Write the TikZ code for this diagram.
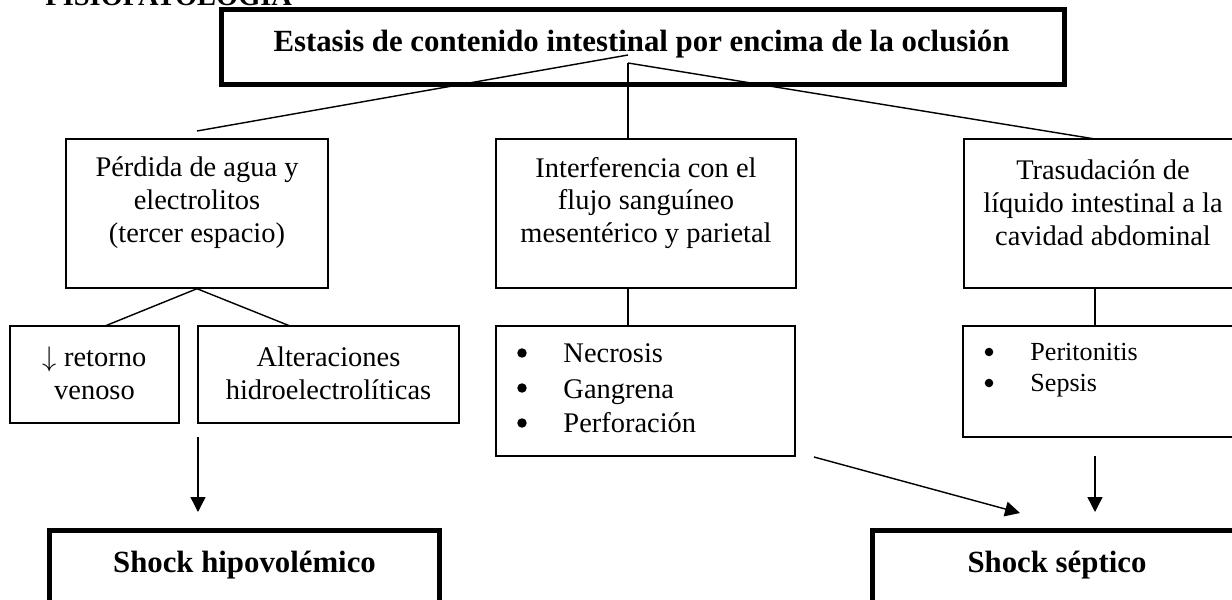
\documentclass[tikz,border=0pt]{standalone}
\usepackage{fontspec}
\setmainfont{Liberation Serif}
\usetikzlibrary{arrows.meta}

\begin{document}
\begin{tikzpicture}[x=0.422pt,y=-0.422pt,
  bx/.style={draw,line width=0.6pt,inner sep=0pt},
  bxk/.style={draw,line width=2.3pt,inner sep=0pt},
  sz/.style 2 args={minimum width=#1*0.422pt,minimum height=#2*0.422pt},
  txt/.style={font=\fontsize{12}{13.9}\selectfont,align=center,inner sep=0pt},
  txtb/.style={font=\fontsize{13}{15}\selectfont\bfseries,inner sep=0pt},
  txts/.style={font=\fontsize{11}{13}\selectfont,inner sep=0pt},
  bul/.style={circle,fill,inner sep=0pt,minimum size=4pt},
  con/.style={line width=0.6pt},
  arr/.style={line width=0.6pt,-{Triangle[length=6.3pt,width=6.3pt]}}]
  \useasboundingbox (0,0) rectangle (1232,600);
  \clip (0,0) rectangle (1232,600);
  \node[font=\fontsize{12}{14}\selectfont\bfseries,anchor=base west,inner sep=0pt] (tit) at (45,6) {FISIOPATOLOGÍA};
  % cabecera
  \node[bxk,sz={843}{75}] (hdr) at (643,47) {};
  \node[txtb,anchor=base] (hdrt) at (641.5,52) {Estasis de contenido intestinal por encima de la oclusión};
  % primer nivel
  \node[bx,sz={262}{149}] (perd) at (197,213.5) {};
  \node[txt] (perdt) at (197,203) {Pérdida de agua y\\electrolitos\\(tercer espacio)};
  \node[bx,sz={300}{149}] (intf) at (646,213.5) {};
  \node[txt] (intft) at (646,203) {Interferencia con el\\flujo sanguíneo\\mesentérico y parietal};
  \node[bx,sz={278}{149}] (tras) at (1103,213.5) {};
  \node[txt] (trast) at (1103,203) {Trasudación de\\líquido intestinal a la\\cavidad abdominal};
  % segundo nivel
  \node[bx,sz={169}{97}] (ven) at (94.5,374.5) {};
  \node[txt] (vent) at (94.5,373) {$\downarrow$ retorno\\venoso};
  \node[bx,sz={261}{97}] (alt) at (328.5,374.5) {};
  \node[txt] (altt) at (328.5,373) {Alteraciones\\hidroelectrolíticas};
  \node[bx,sz={299}{130}] (lst) at (645.5,391) {};
  \node[bul] (b1) at (522,353) {};
  \node[txt,anchor=base west] (l1) at (563,363) {Necrosis};
  \node[bul] (b2) at (522,388) {};
  \node[txt,anchor=base west] (l2) at (563,398) {Gangrena};
  \node[bul] (b3) at (522,423) {};
  \node[txt,anchor=base west] (l3) at (563,433) {Perforación};
  \node[bx,sz={279}{111}] (lsr) at (1102.5,381.5) {};
  \node[bul,minimum size=3.6pt] (c1) at (989,352) {};
  \node[txts,anchor=base west] (q1) at (1030,361) {Peritonitis};
  \node[bul,minimum size=3.6pt] (c2) at (989,383) {};
  \node[txts,anchor=base west] (q2) at (1030,392) {Sepsis};
  % shocks
  \node[bxk,sz={390}{90}] (shh) at (244.5,575.7) {};
  \node[txtb,anchor=base] (shht) at (244.5,572) {Shock hipovolémico};
  \node[bxk,sz={370}{90}] (shs) at (1057.7,575.7) {};
  \node[txtb,anchor=base] (shst) at (1057,572) {Shock séptico};
  % conectores
  \coordinate (hL) at (628,55);
  \coordinate (hM) at (628,63);
  \coordinate (pT) at (197,131);
  \coordinate (tT) at (1095,139);
  \coordinate (vT) at (105,326);
  \coordinate (aT) at (290,326);
  \draw[con] (hL) -- (pT);
  \draw[con] (hM) -- (hM |- intf.north);
  \draw[con] (hM) -- (tT);
  \draw[con] (vT) -- (perd.south) -- (aT);
  \draw[con] (hM |- intf.south) -- (hM |- lst.north);
  \draw[con] (tT |- tras.south) -- (tT |- lsr.north);
  % flechas
  \coordinate (a1) at (198,437);
  \coordinate (a2) at (198,512);
  \coordinate (d1) at (814,457);
  \coordinate (d2) at (1020,513);
  \coordinate (e1) at (1095,456);
  \coordinate (e2) at (1095,512);
  \draw[arr] (a1) -- (a2);
  \draw[arr] (d1) -- (d2);
  \draw[arr] (e1) -- (e2);
\end{tikzpicture}
\end{document}
